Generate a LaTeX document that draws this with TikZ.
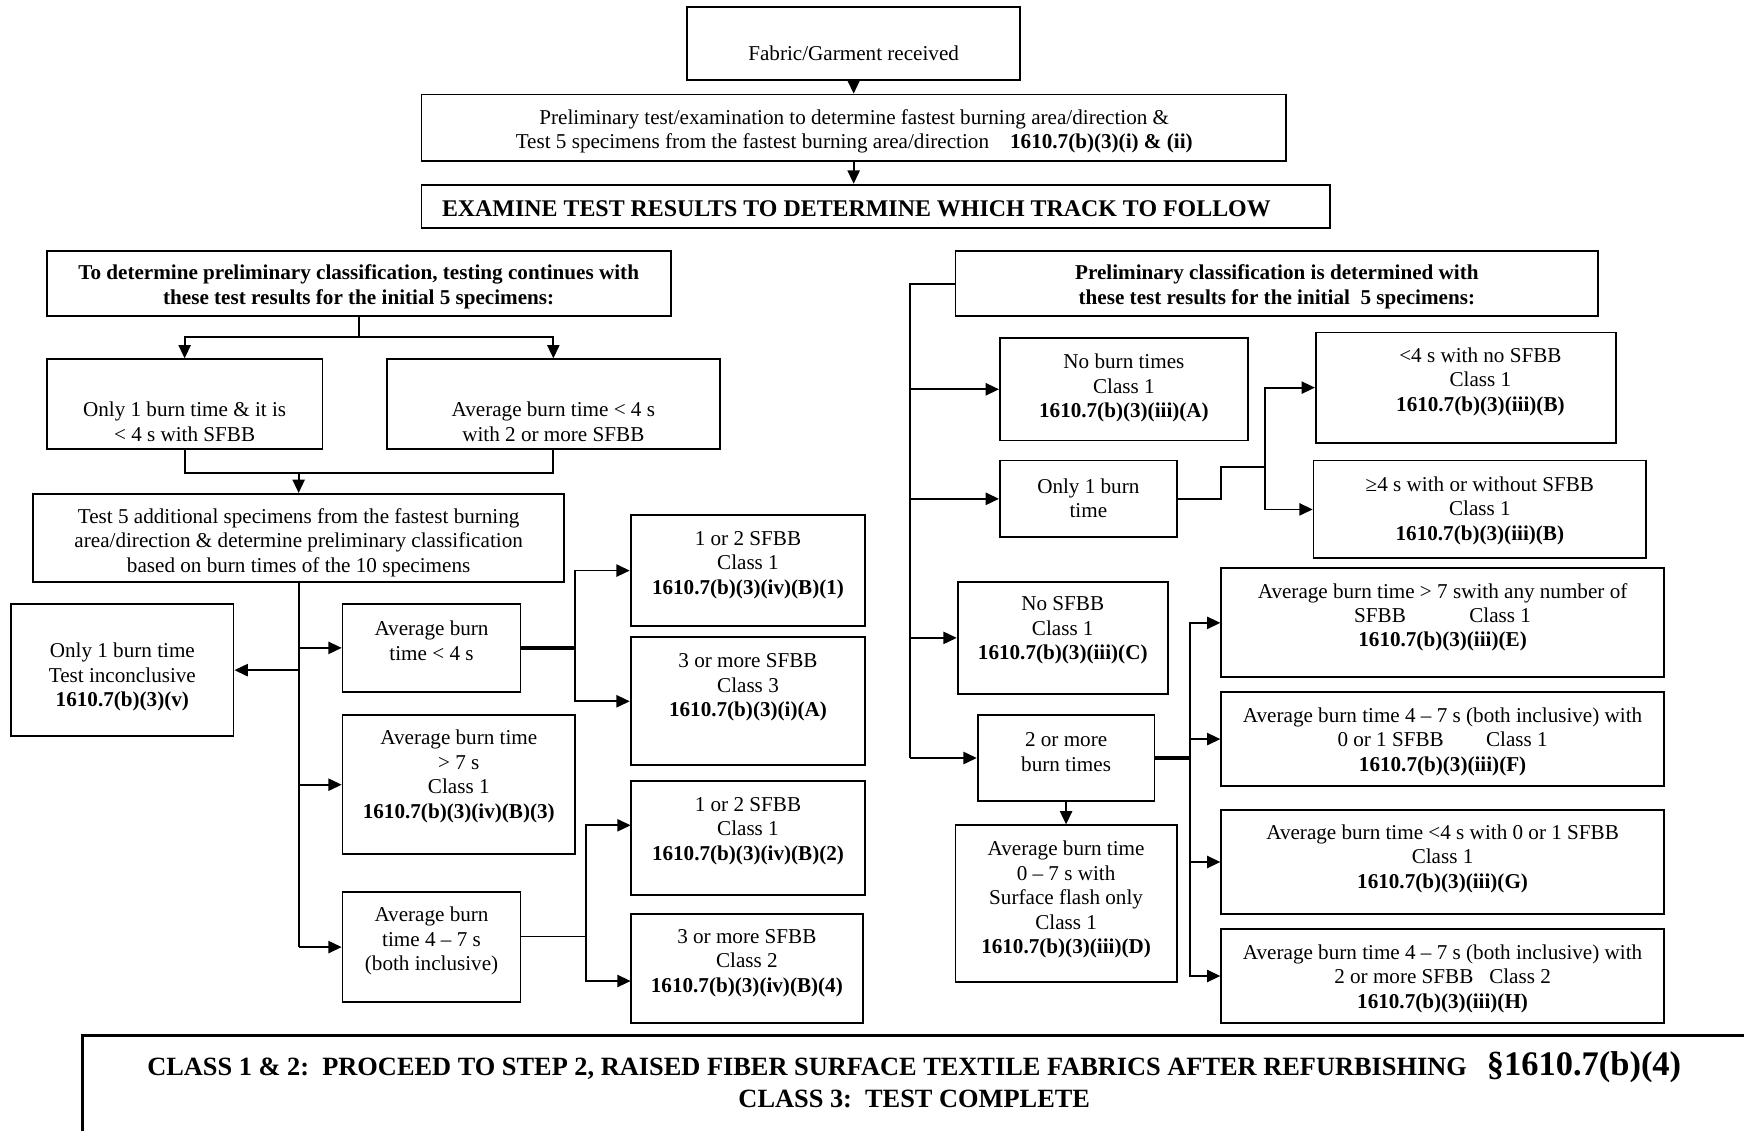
\documentclass[tikz,border=0pt]{standalone}
\usepackage{fontspec}
\setmainfont{Liberation Serif}
\usetikzlibrary{arrows.meta,fit}
\begin{document}
\begin{tikzpicture}[x=0.5pt,y=-0.5pt,
  bx/.style={draw, line width=0.8pt, inner sep=0pt},
  txt/.style={align=center, inner sep=0pt, yshift=-1.5pt, font=\fontsize{9.5}{11}\selectfont},
  btxt/.style={txt, font=\fontsize{9.5}{11}\selectfont\bfseries},
  ln/.style={line width=0.8pt},
  thk/.style={line width=1.5pt},
  arr/.style={line width=0.8pt, -{Triangle[length=6pt,width=5.5pt]}}]
\useasboundingbox (0,0) rectangle (1568,1017);

% top
\node[bx, fit={(618,6) (917,72)}] (fab) {};
\node[txt] (fabt) at (767.5,45) {Fabric/Garment received};
\node[bx, fit={(379,85) (1156,145)}] (pre) {};
\node[txt] (pret) at (768,115) {Preliminary test/examination to determine fastest burning area/direction \&\\
Test 5 specimens from the fastest burning area/direction\quad\textbf{1610.7(b)(3)(i) \& (ii)}};
\node[bx, fit={(379,166) (1196,205)}] (exa) {};
\node[inner sep=0pt, anchor=west, yshift=-1pt, font=\fontsize{10.75}{13}\selectfont\bfseries] (exat) at (397,186) {EXAMINE TEST RESULTS TO DETERMINE WHICH TRACK TO FOLLOW};

% left track
\node[bx, fit={(42,226) (603,284)}] (lh) {};
\node[btxt] (lht) at (322.5,255) {To determine preliminary classification, testing continues with\\ these test results for the initial 5 specimens:};
\node[bx, fit={(42,323) (290,404)}] (b6) {};
\node[txt] (b6t) at (166,376) {Only 1 burn time \& it is\\ < 4 s with SFBB};
\node[bx, fit={(348,323) (647,404)}] (b7) {};
\node[txt] (b7t) at (497.5,376) {Average burn time < 4 s\\ with 2 or more SFBB};
\node[bx, fit={(30,444) (507,523)}] (b8) {};
\node[txt] (b8t) at (268.5,485) {Test 5 additional specimens from the fastest burning\\ area/direction \& determine preliminary classification\\ based on burn times of the 10 specimens};
\node[bx, fit={(10,543) (210,662)}] (b9) {};
\node[txt] (b9t) at (110,606) {Only 1 burn time\\ Test inconclusive\\ \textbf{1610.7(b)(3)(v)}};
\node[bx, fit={(308,543) (468,622)}] (b10) {};
\node[txt] (b10t) at (388,573) {Average burn\\ time < 4 s};
\node[bx, fit={(308,643) (517,768)}] (b11) {};
\node[txt] (b11t) at (412.5,695) {Average burn time\\ > 7 s\\ Class 1\\ \textbf{1610.7(b)(3)(iv)(B)(3)}};
\node[bx, fit={(308,802) (468,901)}] (b12) {};
\node[txt] (b12t) at (388,843) {Average burn\\ time 4 – 7 s\\ (both inclusive)};
\node[bx, fit={(567,463) (778,563)}] (b13) {};
\node[txt] (b13t) at (672.5,505) {1 or 2 SFBB\\ Class 1\\ \textbf{1610.7(b)(3)(iv)(B)(1)}};
\node[bx, fit={(567,573) (778,688)}] (b14) {};
\node[txt] (b14t) at (672.5,615) {3 or more SFBB\\ Class 3\\ \textbf{1610.7(b)(3)(i)(A)}};
\node[bx, fit={(567,702) (778,805)}] (b15) {};
\node[txt] (b15t) at (672.5,744) {1 or 2 SFBB\\ Class 1\\ \textbf{1610.7(b)(3)(iv)(B)(2)}};
\node[bx, fit={(567,822) (776,920)}] (b16) {};
\node[txt] (b16t) at (671.5,863) {3 or more SFBB\\ Class 2\\ \textbf{1610.7(b)(3)(iv)(B)(4)}};

% right track
\node[bx, fit={(859,226) (1437,284)}] (rh) {};
\node[btxt] (rht) at (1148,255) {Preliminary classification is determined with\\ these test results for the initial\ \ 5 specimens:};
\node[bx, fit={(899,304) (1122,396)}] (b17) {};
\node[txt] (b17t) at (1010.5,346) {No burn times\\ Class 1\\ \textbf{1610.7(b)(3)(iii)(A)}};
\node[bx, fit={(899,414) (1058,483)}] (b18) {};
\node[txt] (b18t) at (978.5,445) {Only 1 burn\\ time};
\node[bx, fit={(1183,299) (1453,398)}] (b19) {};
\node[txt] (b19t) at (1331,340) {<4 s with no SFBB\\ Class 1\\ \textbf{1610.7(b)(3)(iii)(B)}};
\node[bx, fit={(1181,414) (1480,502)}] (b20) {};
\node[txt] (b20t) at (1330.5,456) {≥4 s with or without SFBB\\ Class 1\\ \textbf{1610.7(b)(3)(iii)(B)}};
\node[bx, fit={(861,523) (1050,624)}] (b21) {};
\node[txt] (b21t) at (955.5,564) {No SFBB\\ Class 1\\ \textbf{1610.7(b)(3)(iii)(C)}};
\node[bx, fit={(879,643) (1038,720)}] (b22) {};
\node[txt] (b22t) at (958.5,673) {2 or more\\ burn times};
\node[bx, fit={(859,742) (1058,883)}] (b23) {};
\node[txt] (b23t) at (958.5,806) {Average burn time\\ 0 – 7 s with\\ Surface flash only\\ Class 1\\ \textbf{1610.7(b)(3)(iii)(D)}};
\node[bx, fit={(1098,511) (1496,609)}] (b24) {};
\node[txt] (b24t) at (1297,552) {Average burn time > 7 swith any number of\\ SFBB\qquad\quad Class 1\\ \textbf{1610.7(b)(3)(iii)(E)}};
\node[bx, fit={(1098,622) (1496,707)}] (b25) {};
\node[txt] (b25t) at (1297,664) {Average burn time 4 – 7 s (both inclusive) with\\ 0 or 1 SFBB\qquad Class 1\\ \textbf{1610.7(b)(3)(iii)(F)}};
\node[bx, fit={(1098,728) (1496,822)}] (b26) {};
\node[txt] (b26t) at (1297,769) {Average burn time <4 s with 0 or 1 SFBB\\ Class 1\\ \textbf{1610.7(b)(3)(iii)(G)}};
\node[bx, fit={(1098,835) (1496,920)}] (b27) {};
\node[txt] (b27t) at (1297,877) {Average burn time 4 – 7 s (both inclusive) with\\ 2 or more SFBB\ \ \ Class 2\\ \textbf{1610.7(b)(3)(iii)(H)}};

% bottom
\draw[thk] (1568,931) -| (74,1017);
\node[align=center, inner sep=0pt, font=\fontsize{11.85}{14.5}\selectfont\bfseries] (bt) at (822,971)
  {CLASS 1 \& 2:\ \ PROCEED TO STEP 2, RAISED FIBER SURFACE TEXTILE FABRICS AFTER REFURBISHING\ \ \ {\fontsize{15.5}{14.5}\selectfont §1610.7(b)(4)}\\
   CLASS 3:\ \ TEST COMPLETE};

% connectors top
\draw[arr] (fab.south) -- (pre.north);
\draw[arr] (pre.south) -- (pre.south |- exa.north);

% left connectors
\coordinate (lj) at (322.5,303);
\draw[ln] (lh.south) -- (lj);
\draw[arr] (lj) -| (b6.north);
\draw[arr] (lj) -| (b7.north);
\coordinate (lk) at (268.5,425);
\draw[ln] (b6.south) |- (lk) -| (b7.south);
\draw[arr] (lk) -- (b8.north);
\draw[ln] (b8.south) -- (b8.south |- b12.west);
\draw[arr] (b8.south |- b10.west) -- (b10.west);
\draw[arr] (b8.south |- b9.east) -- (b9.east);
\draw[arr] (b8.south |- b11.west) -- (b11.west);
\draw[arr] (b8.south |- b12.west) -- (b12.west);
\coordinate (j1) at (517,582.5);
\draw[thk] (b10.east) -- (j1);
\draw[arr] (j1) |- (b13.west);
\draw[arr] (j1) |- (b14.west);
\coordinate (j2) at (527,842);
\coordinate (e15) at (567,742);
\coordinate (e16) at (567,882);
\draw[ln] (b12.east |- j2) -- (j2);
\draw[arr] (j2) |- (e15);
\draw[arr] (j2) |- (e16);

% right connectors
\coordinate (rj) at (818,255);
\draw[ln] (rh.west) -- (rj) -- (rj |- b22.west);
\draw[arr] (rj |- b17.west) -- (b17.west);
\draw[arr] (rj |- b18.west) -- (b18.west);
\draw[arr] (rj |- b21.west) -- (b21.west);
\draw[arr] (rj |- b22.west) -- (b22.west);
\coordinate (j3) at (1137,420);
\draw[ln] (b18.east) -- (1098,448.5) |- (j3);
\draw[arr] (j3) |- (b19.west);
\draw[arr] (j3) |- (b20.west);
\coordinate (j4) at (1070,681.5);
\draw[thk] (b22.east) -- (j4);
\draw[arr] (j4) |- (b24.west);
\draw[arr] (j4) |- (b25.west);
\draw[arr] (j4) |- (b26.west);
\draw[arr] (j4) |- (b27.west);
\draw[arr] (b22.south) -- (b22.south |- b23.north);
\end{tikzpicture}
\end{document}
